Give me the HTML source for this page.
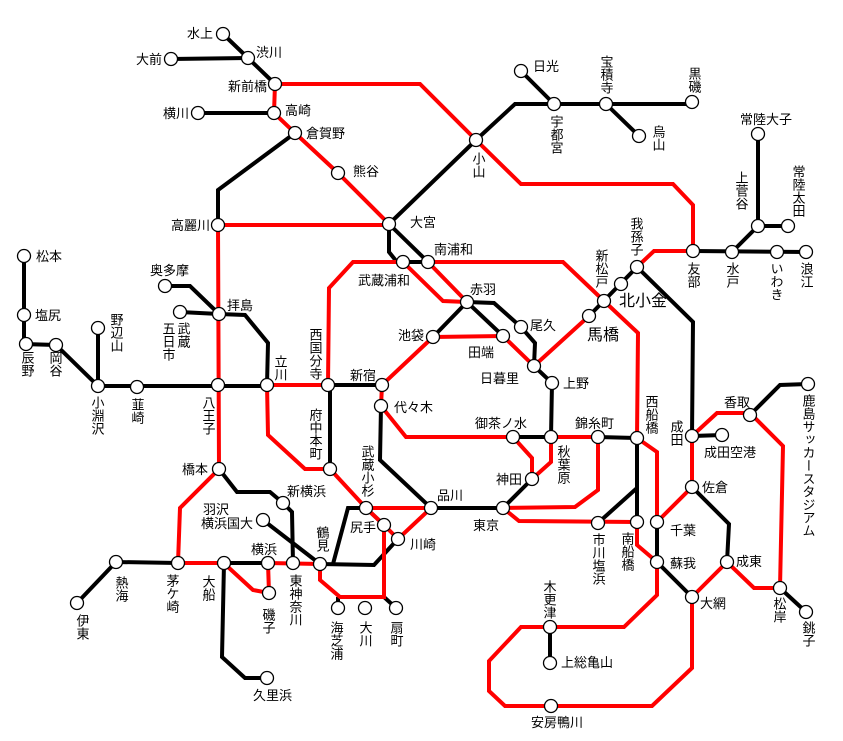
<!DOCTYPE html>
<html><head><meta charset="utf-8"><style>
html,body{margin:0;padding:0;background:#fff}
svg{display:block}
text{font-family:"Liberation Sans","Noto Sans CJK JP",sans-serif;font-size:13px;fill:#000}
.v{writing-mode:vertical-rl;text-anchor:start}
.r{stroke:#f00;stroke-width:4;fill:none;stroke-linejoin:miter}
.k{stroke:#000;stroke-width:4;fill:none}
circle{fill:#fff;stroke:#000;stroke-width:1.3}
</style></head><body>
<svg width="843" height="741" viewBox="0 0 843 741" xmlns="http://www.w3.org/2000/svg">
<!-- black lines -->
<g class="k">
<path d="M223,34 L248,58 L275,84"/>
<path d="M171,59 L248,58"/>
<path d="M198,113 L274,113"/>
<path d="M295,133 L218,190 L218,225"/>
<path d="M165,286 L190,286 L219,314"/>
<path d="M180,312 L219,314 L245,315 L268,343 L267,385"/>
<path d="M24,256 L24,344 L56,345 L98,386"/>
<path d="M98,328 L98,386 L267,386"/>
<path d="M328,385 L382,385"/>
<path d="M330,385 L330,469"/>
<path d="M219,469 L237,492 L270,492 L283,503 L292,512 L293,563"/>
<path d="M263,520 L320,564"/>
<path d="M320,564 L374,565 L397,540"/>
<path d="M333,564 L348,508 L366,508 L384,525"/>
<path d="M116,562 L178,563"/>
<path d="M116,562 L77,603"/>
<path d="M224,563 L268,563"/>
<path d="M224,563 L222,657 L245,678 L267,678"/>
<path d="M389,224 L476,140 L515,104 L692,104"/>
<path d="M521,71 L554,104"/>
<path d="M606,104 L639,136"/>
<path d="M389,224 L389,252 L397,262 L428,262"/>
<path d="M389,224 L428,262"/>
<path d="M433,337 L467,302 L503,336"/>
<path d="M467,302 L494,303 L521,327 L535,343 L534,366 L552,383 L551,437"/>
<path d="M589,316 L637,267 L693,322 L692,436 L722,435"/>
<path d="M693,251 L806,252"/>
<path d="M732,252 L758,226 L788,226"/>
<path d="M758,226 L758,134"/>
<path d="M381,406 L380,460 L431,508 L503,508 L532,479"/>
<path d="M513,437 L551,437"/>
<path d="M598,437 L637,438 L637,522"/>
<path d="M637,488 L598,523"/>
<path d="M657,522 L657,562 L692,597"/>
<path d="M692,487 L729,524 L727,562"/>
<path d="M750,415 L780,385 L808,384"/>
<path d="M780,588 L806,612"/>
<path d="M550,627 L550,663"/>
<path d="M384,597 L396,608"/>
<path d="M338,597 L338,608"/>
</g>
<!-- red lines -->
<g class="r">
<path d="M275,84 L274,113 L295,133 L338,173 L389,224"/>
<path d="M275,84 L420,84 L476,140 L521,184 L673,184 L693,205 L693,251"/>
<path d="M218,225 L389,225"/>
<path d="M218,225 L219,469 L180,508 L178,563 L224,563"/>
<path d="M267,385 L328,385"/>
<path d="M328,385 L329,288 L353,262 L403,262 L443,301 L467,302"/>
<path d="M428,262 L467,302"/>
<path d="M428,262 L563,262 L604,301 L638,333 L637,438 L657,452 L657,522"/>
<path d="M433,337 L503,336 L534,366 L589,316"/>
<path d="M637,267 L654,251 L693,251"/>
<path d="M433,337 L382,385 L381,406 L406,437 L513,437 L532,458 L532,479"/>
<path d="M551,437 L598,437"/>
<path d="M551,437 L551,462 L532,479"/>
<path d="M267,385 L268,435 L305,469 L330,469 L366,508 L431,508"/>
<path d="M384,525 L398,539 L431,508"/>
<path d="M268,563 L320,564"/>
<path d="M228,567 L253,590 L269,593 L268,563"/>
<path d="M320,564 L320,580 L340,597 L384,597 L384,525"/>
<path d="M366,508 L384,525"/>
<path d="M503,508 L575,507 L598,490 L598,437"/>
<path d="M503,508 L519,521 L637,522 L637,545 L657,562 L657,595 L624,627 L521,627 L489,661 L489,691 L505,706 L652,706 L692,668 L692,597"/>
<path d="M657,522 L692,487 L692,436 L717,413 L750,413 L783,446 L780,588"/>
<path d="M692,597 L727,562 L754,588 L780,588"/>
</g>
<!-- stations -->
<g>
<circle cx="223" cy="34" r="6.5"/><circle cx="248" cy="58" r="6.5"/><circle cx="171" cy="59" r="6.5"/>
<circle cx="275" cy="84" r="6.5"/><circle cx="274" cy="113" r="6.5"/><circle cx="198" cy="113" r="6.5"/>
<circle cx="295" cy="133" r="6.5"/><circle cx="338" cy="173" r="6.5"/><circle cx="218" cy="225" r="6.5"/>
<circle cx="389" cy="224" r="6.5"/><circle cx="403" cy="262" r="6.5"/><circle cx="428" cy="262" r="6.5"/>
<circle cx="467" cy="302" r="6.5"/><circle cx="521" cy="327" r="6.5"/><circle cx="433" cy="337" r="6.5"/>
<circle cx="503" cy="336" r="6.5"/><circle cx="534" cy="366" r="6.5"/><circle cx="552" cy="383" r="6.5"/>
<circle cx="382" cy="385" r="6.5"/><circle cx="328" cy="385" r="6.5"/><circle cx="381" cy="406" r="6.5"/>
<circle cx="24" cy="256" r="6.5"/><circle cx="24" cy="315" r="6.5"/><circle cx="26" cy="344" r="6.5"/>
<circle cx="56" cy="345" r="6.5"/><circle cx="98" cy="328" r="6.5"/><circle cx="165" cy="286" r="6.5"/>
<circle cx="180" cy="312" r="6.5"/><circle cx="219" cy="314" r="6.5"/><circle cx="267" cy="385" r="6.5"/>
<circle cx="98" cy="386" r="6.5"/><circle cx="137" cy="387" r="6.5"/><circle cx="218" cy="385" r="6.5"/>
<circle cx="330" cy="469" r="6.5"/><circle cx="219" cy="469" r="6.5"/><circle cx="283" cy="503" r="6.5"/>
<circle cx="263" cy="520" r="6.5"/><circle cx="366" cy="508" r="6.5"/><circle cx="384" cy="525" r="6.5"/>
<circle cx="398" cy="539" r="6.5"/><circle cx="320" cy="564" r="6.5"/><circle cx="268" cy="563" r="6.5"/>
<circle cx="293" cy="563" r="6.5"/><circle cx="224" cy="563" r="6.5"/><circle cx="178" cy="563" r="6.5"/>
<circle cx="116" cy="562" r="6.5"/><circle cx="77" cy="603" r="6.5"/><circle cx="269" cy="593" r="6.5"/>
<circle cx="267" cy="678" r="6.5"/><circle cx="338" cy="608" r="6.5"/><circle cx="365" cy="608" r="6.5"/>
<circle cx="396" cy="608" r="6.5"/><circle cx="431" cy="508" r="6.5"/><circle cx="503" cy="508" r="6.5"/>
<circle cx="532" cy="479" r="6.5"/><circle cx="513" cy="437" r="6.5"/><circle cx="551" cy="437" r="6.5"/>
<circle cx="598" cy="437" r="6.5"/><circle cx="598" cy="523" r="6.5"/><circle cx="637" cy="522" r="6.5"/>
<circle cx="637" cy="438" r="6.5"/><circle cx="657" cy="522" r="6.5"/><circle cx="657" cy="562" r="6.5"/>
<circle cx="692" cy="597" r="6.5"/><circle cx="727" cy="562" r="6.5"/><circle cx="692" cy="487" r="6.5"/>
<circle cx="692" cy="436" r="6.5"/><circle cx="722" cy="435" r="6.5"/><circle cx="750" cy="415" r="6.5"/>
<circle cx="808" cy="384" r="6.5"/><circle cx="780" cy="588" r="6.5"/><circle cx="806" cy="612" r="6.5"/>
<circle cx="550" cy="627" r="6.5"/><circle cx="550" cy="663" r="6.5"/><circle cx="551" cy="706" r="6.5"/>
<circle cx="521" cy="71" r="6.5"/><circle cx="554" cy="104" r="6.5"/><circle cx="606" cy="104" r="6.5"/>
<circle cx="692" cy="102" r="6.5"/><circle cx="639" cy="136" r="6.5"/><circle cx="476" cy="140" r="6.5"/>
<circle cx="758" cy="134" r="6.5"/><circle cx="758" cy="226" r="6.5"/><circle cx="788" cy="226" r="6.5"/>
<circle cx="693" cy="251" r="6.5"/><circle cx="732" cy="252" r="6.5"/><circle cx="777" cy="252" r="6.5"/>
<circle cx="806" cy="252" r="6.5"/><circle cx="637" cy="267" r="6.5"/><circle cx="621" cy="284" r="6.5"/>
<circle cx="604" cy="301" r="6.5"/><circle cx="589" cy="316" r="6.5"/>
</g>
<!-- horizontal labels -->
<g>
<text x="213" y="38" text-anchor="end">水上</text>
<text x="256" y="57">渋川</text>
<text x="162" y="64" text-anchor="end">大前</text>
<text x="267" y="91" text-anchor="end">新前橋</text>
<text x="285" y="115">高崎</text>
<text x="189" y="118" text-anchor="end">横川</text>
<text x="306" y="138">倉賀野</text>
<text x="353" y="176">熊谷</text>
<text x="210" y="230" text-anchor="end">高麗川</text>
<text x="410" y="227">大宮</text>
<text x="434" y="254">南浦和</text>
<text x="358" y="285">武蔵浦和</text>
<text x="470" y="294">赤羽</text>
<text x="530" y="330">尾久</text>
<text x="424" y="340" text-anchor="end">池袋</text>
<text x="468" y="357">田端</text>
<text x="480" y="383">日暮里</text>
<text x="563" y="388">上野</text>
<text x="350" y="380">新宿</text>
<text x="394" y="412">代々木</text>
<text x="36" y="261">松本</text>
<text x="35" y="320">塩尻</text>
<text x="150" y="275">奥多摩</text>
<text x="227" y="310">拝島</text>
<text x="287" y="496">新横浜</text>
<text x="208" y="474" text-anchor="end">橋本</text>
<text x="203" y="514">羽沢</text>
<text x="201" y="528">横浜国大</text>
<text x="350" y="532">尻手</text>
<text x="410" y="549">川崎</text>
<text x="251" y="554">横浜</text>
<text x="253" y="700">久里浜</text>
<text x="437" y="500">品川</text>
<text x="473" y="530">東京</text>
<text x="522" y="484" text-anchor="end">神田</text>
<text x="475" y="428">御茶ノ水</text>
<text x="575" y="428">錦糸町</text>
<text x="670" y="535">千葉</text>
<text x="670" y="568">蘇我</text>
<text x="700" y="608">大網</text>
<text x="736" y="566">成東</text>
<text x="702" y="492">佐倉</text>
<text x="704" y="457">成田空港</text>
<text x="724" y="407">香取</text>
<text x="561" y="667">上総亀山</text>
<text x="531" y="727">安房鴨川</text>
<text x="533" y="71">日光</text>
<text x="740" y="124">常陸大子</text>
<text x="619" y="306" style="font-size:16px">北小金</text>
<text x="587" y="340" style="font-size:16px">馬橋</text>
</g>
<!-- vertical labels -->
<g class="v">
<text class="v" x="315" y="328">西国分寺</text>
<text class="v" x="27" y="351">辰野</text>
<text class="v" x="55" y="351">岡谷</text>
<text class="v" x="116" y="313">野辺山</text>
<text class="v" x="97" y="396">小淵沢</text>
<text class="v" x="137" y="398">韮崎</text>
<text class="v" x="208" y="396">八王子</text>
<text class="v" x="280" y="355">立川</text>
<text class="v" x="183" y="322">武蔵</text>
<text class="v" x="168" y="322">五日市</text>
<text class="v" x="315" y="408">府中本町</text>
<text class="v" x="367" y="445">武蔵小杉</text>
<text class="v" x="322" y="526">鶴見</text>
<text class="v" x="295" y="574">東神奈川</text>
<text class="v" x="208" y="575">大船</text>
<text class="v" x="172" y="574">茅ケ崎</text>
<text class="v" x="121" y="576">熱海</text>
<text class="v" x="82" y="614">伊東</text>
<text class="v" x="268" y="608">磯子</text>
<text class="v" x="336" y="621">海芝浦</text>
<text class="v" x="365" y="621">大川</text>
<text class="v" x="396" y="621">扇町</text>
<text class="v" x="563" y="445">秋葉原</text>
<text class="v" x="598" y="533">市川塩浜</text>
<text class="v" x="627" y="532">南船橋</text>
<text class="v" x="651" y="395">西船橋</text>
<text class="v" x="676" y="420">成田</text>
<text class="v" x="808" y="394">鹿島サッカースタジアム</text>
<text class="v" x="779" y="597">松岸</text>
<text class="v" x="808" y="621">銚子</text>
<text class="v" x="549" y="580">木更津</text>
<text class="v" x="556" y="115">宇都宮</text>
<text class="v" x="606" y="55">宝積寺</text>
<text class="v" x="694" y="67">黒磯</text>
<text class="v" x="658" y="125">烏山</text>
<text class="v" x="478" y="152">小山</text>
<text class="v" x="741" y="171">上菅谷</text>
<text class="v" x="798" y="165">常陸太田</text>
<text class="v" x="693" y="262">友部</text>
<text class="v" x="732" y="262">水戸</text>
<text class="v" x="776" y="262">いわき</text>
<text class="v" x="806" y="262">浪江</text>
<text class="v" x="636" y="217">我孫子</text>
<text class="v" x="601" y="249">新松戸</text>
</g>
</svg>
</body></html>
